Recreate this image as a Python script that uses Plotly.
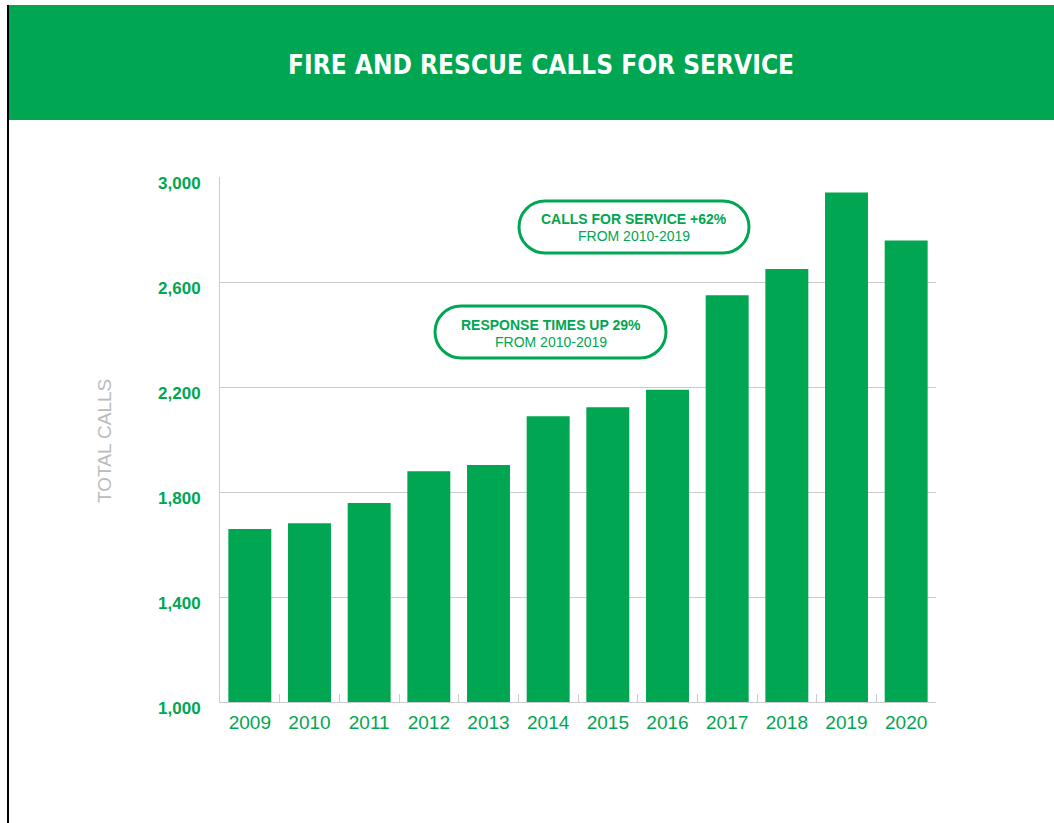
import plotly.graph_objects as go

years = ["2009", "2010", "2011", "2012", "2013", "2014", "2015", "2016", "2017", "2018", "2019", "2020"]
calls = [1659, 1681, 1758, 1879, 1903, 2089, 2123, 2190, 2550, 2650, 2941, 2758]
y_ticks = [1000, 1400, 1800, 2200, 2600, 3000]
y_tick_labels = ["1,000", "1,400", "1,800", "2,200", "2,600", "3,000"]

GREEN = "#00a651"
GRID = "#cccccc"

W, H = 1054, 823
ML, MR, MT, MB = 220, 118, 177, 121
PW, PH = W - ML - MR, H - MT - MB


def px(x):
    return (x - ML) / PW


def py(y):
    return (H - MB - y) / PH


def pill_path(x0, y0, x1, y1):
    r = (y1 - y0) / 2.0
    k = 0.5523 * r
    pts = [
        ("M", [(x0 + r, y0)]),
        ("L", [(x1 - r, y0)]),
        ("C", [(x1 - r + k, y0), (x1, y0 + r - k), (x1, y0 + r)]),
        ("C", [(x1, y0 + r + k), (x1 - r + k, y1), (x1 - r, y1)]),
        ("L", [(x0 + r, y1)]),
        ("C", [(x0 + r - k, y1), (x0, y0 + r + k), (x0, y0 + r)]),
        ("C", [(x0, y0 + r - k), (x0 + r - k, y0), (x0 + r, y0)]),
    ]
    s = ""
    for cmd, ps in pts:
        s += cmd + " " + " ".join(f"{px(a):.5f},{py(b):.5f}" for a, b in ps) + " "
    return s + "Z"


fig = go.Figure()
fig.add_trace(go.Bar(x=years, y=calls, marker=dict(color=GREEN, line=dict(width=0)),
                     hoverinfo="x+y"))

shapes = [
    # left border line
    dict(type="rect", xref="paper", yref="paper", x0=px(7), x1=px(9), y0=py(823), y1=py(5),
         fillcolor="#000000", line=dict(width=0), layer="below"),
    # header band
    dict(type="rect", xref="paper", yref="paper", x0=px(9), x1=px(1054), y0=py(120), y1=py(5),
         fillcolor=GREEN, line=dict(width=0), layer="below"),
    dict(type="path", xref="paper", yref="paper", path=pill_path(519, 201, 749, 253),
         line=dict(color=GREEN, width=3), fillcolor="rgba(255,255,255,1)", layer="above"),
    dict(type="path", xref="paper", yref="paper", path=pill_path(435, 306, 666, 358),
         line=dict(color=GREEN, width=3), fillcolor="rgba(255,255,255,1)", layer="above"),
]

annotations = [
    dict(xref="paper", yref="paper", x=px(541), y=py(65), text="<b>FIRE AND RESCUE CALLS FOR SERVICE</b>",
         showarrow=False, xanchor="center", yanchor="middle",
         font=dict(family="DejaVu Sans Condensed, DejaVu Sans, sans-serif",
                   size=26, color="#ffffff")),
    dict(xref="paper", yref="paper", x=px(634), y=py(219), text="<b>CALLS FOR SERVICE +62%</b>",
         showarrow=False, xanchor="center", yanchor="middle",
         font=dict(family="Liberation Sans, Arial, sans-serif", size=14, color=GREEN)),
    dict(xref="paper", yref="paper", x=px(634), y=py(236), text="FROM 2010-2019",
         showarrow=False, xanchor="center", yanchor="middle",
         font=dict(family="Liberation Sans, Arial, sans-serif", size=14, color=GREEN)),
    dict(xref="paper", yref="paper", x=px(550.5), y=py(325), text="<b>RESPONSE TIMES UP 29%</b>",
         showarrow=False, xanchor="center", yanchor="middle",
         font=dict(family="Liberation Sans, Arial, sans-serif", size=14, color=GREEN)),
    dict(xref="paper", yref="paper", x=px(550.5), y=py(342), text="FROM 2010-2019",
         showarrow=False, xanchor="center", yanchor="middle",
         font=dict(family="Liberation Sans, Arial, sans-serif", size=14, color=GREEN)),
    dict(xref="paper", yref="paper", x=px(104), y=py(441), text="TOTAL CALLS", textangle=-90,
         showarrow=False, xanchor="center", yanchor="middle",
         font=dict(family="Liberation Sans, Arial, sans-serif", size=19, color="#bbbbbb")),
]

fig.update_layout(
    width=W, height=H,
    margin=dict(l=ML, r=MR, t=MT, b=MB, pad=0),
    paper_bgcolor="#ffffff", plot_bgcolor="#ffffff",
    showlegend=False,
    bargap=0.28,
    shapes=shapes,
    annotations=annotations,
    xaxis=dict(
        type="category",
        range=[-0.5, len(years) - 0.5],
        showgrid=False, zeroline=False,
        showline=True, linecolor=GRID, linewidth=1,
        ticks="inside", tickson="boundaries", ticklen=8, tickcolor=GRID, tickwidth=1,
        tickfont=dict(family="Liberation Sans, Arial, sans-serif", size=19, color=GREEN),
        ticklabelstandoff=3,
    ),
    yaxis=dict(
        range=[1000, 3000],
        tickmode="array", tickvals=y_ticks, ticktext=y_tick_labels,
        showgrid=True, gridcolor=GRID, gridwidth=1,
        zeroline=False,
        showline=True, linecolor=GRID, linewidth=1,
        ticks="", ticklabelstandoff=15, ticklabelshift=6,
        tickfont=dict(family="Liberation Sans, Arial, sans-serif", size=17, color=GREEN, weight="bold"),
    ),
)

fig.write_html("out.html")
